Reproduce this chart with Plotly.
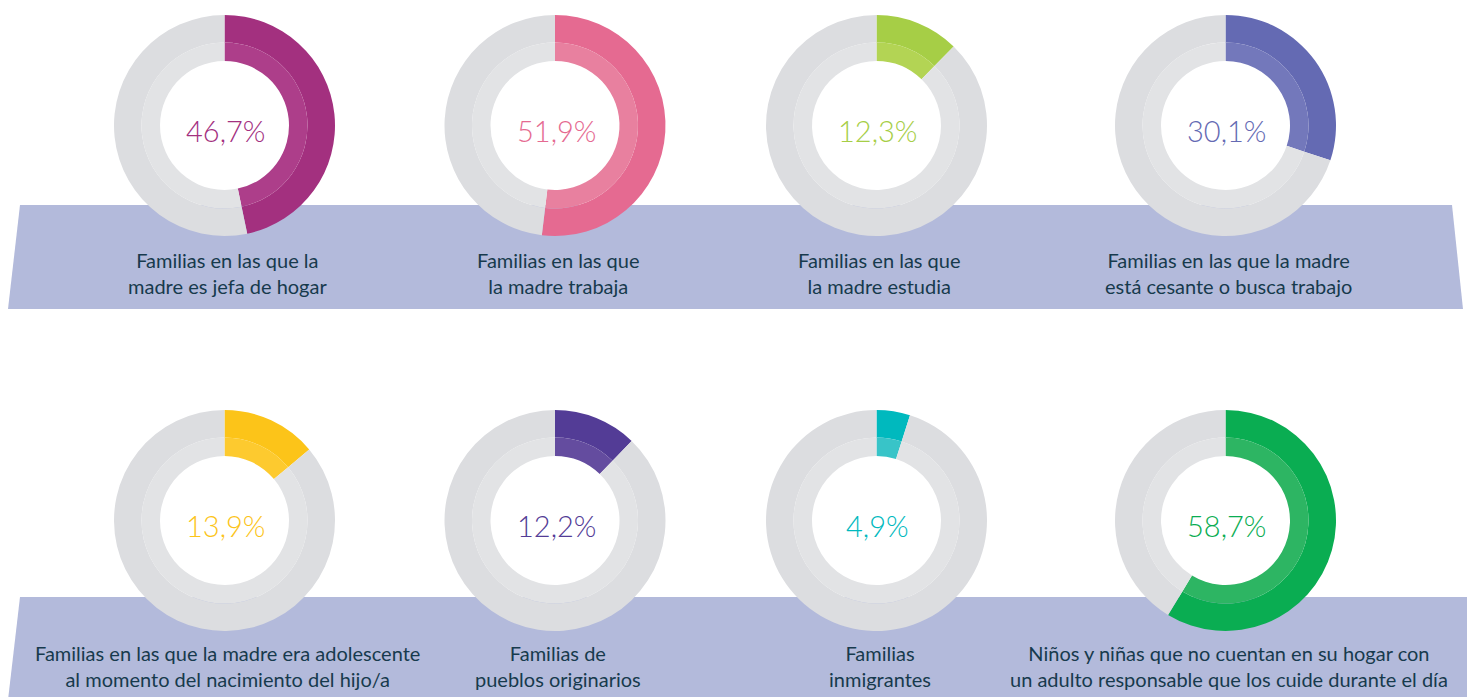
import plotly.graph_objects as go

W, H = 1467, 697

values = [46.7, 51.9, 12.3, 30.1, 13.9, 12.2, 4.9, 58.7]
pct_labels = ["46,7%", "51,9%", "12,3%", "30,1%", "13,9%", "12,2%", "4,9%", "58,7%"]
captions = [
    "Familias en las que la<br>madre es jefa de hogar",
    "Familias en las que<br>la madre trabaja",
    "Familias en las que<br>la madre estudia",
    "Familias en las que la madre<br>está cesante o busca trabajo",
    "Familias en las que la madre era adolescente<br>al momento del nacimiento del hijo/a",
    "Familias de<br>pueblos originarios",
    "Familias<br>inmigrantes",
    "Niños y niñas que no cuentan en su hogar con<br>un adulto responsable que los cuide durante el día",
]
main_colors = ["#a3307f", "#e56a91", "#a6ce46", "#646ab3",
               "#fcc419", "#533c96", "#00b9be", "#0aad52"]
light_colors = ["#ad3e8a", "#e8809f", "#b3d454", "#7378bb",
                "#fdca2f", "#644c9f", "#38c4c8", "#2db563"]

# layout (pixel) positions
centers_x = [224.5, 555, 876.5, 1225.5, 224.5, 555, 876.5, 1225.5]
centers_y = [125.5, 125.5, 125.5, 125.5, 520.5, 520.5, 520.5, 520.5]
R_OUT, R_MID, R_IN = 110.5, 83.0, 64.5
GRAY_OUT, GRAY_IN = "#dcdde0", "#e2e3e5"
BANNER = "#b3badb"
TEXT = "#173a4d"


def px(x):
    return x / W


def py(y):
    return 1 - y / H


def dom(cx, cy, r):
    return dict(x=[px(cx - r), px(cx + r)], y=[py(cy + r), py(cy - r)])


fig = go.Figure()
for i, v in enumerate(values):
    cx, cy = centers_x[i], centers_y[i]
    for r, hole, cols in [(R_OUT, R_MID / R_OUT, [main_colors[i], GRAY_OUT]),
                          (R_MID, R_IN / R_MID, [light_colors[i], GRAY_IN])]:
        fig.add_trace(go.Pie(
            values=[v, 100 - v], labels=["a", "b"], sort=False,
            direction="clockwise", rotation=0, hole=hole,
            marker=dict(colors=cols, line=dict(width=0)),
            textinfo="none", hoverinfo="skip", showlegend=False,
            domain=dom(cx, cy, r),
        ))
    fig.add_annotation(x=px(cx + 1), y=py(cy + 5), xref="paper", yref="paper",
                       xanchor="center", yanchor="middle",
                       text=pct_labels[i], showarrow=False,
                       font=dict(family="Lato", size=29, color=main_colors[i], weight=300))
    cap_y = 273 if i < 4 else 666
    fig.add_annotation(x=px(cx + 3), y=py(cap_y), xref="paper", yref="paper",
                       xanchor="center", yanchor="middle",
                       text=captions[i], showarrow=False, align="center",
                       font=dict(family="Lato", size=20, color=TEXT))

banners = [
    [(20, 205), (1452, 205), (1463, 309), (8, 309)],
    [(20, 597), (1470, 597), (1470, 700), (8, 700)],
]
for poly in banners:
    path = "M " + " L ".join(f"{px(x)},{py(y)}" for x, y in poly) + " Z"
    fig.add_shape(type="path", path=path, xref="paper", yref="paper",
                  fillcolor=BANNER, line=dict(width=0), layer="below")

fig.update_layout(width=W, height=H, margin=dict(l=0, r=0, t=0, b=0),
                  paper_bgcolor="white", plot_bgcolor="white")
fig.write_html("out.html", config={"displayModeBar": False},
               post_script="document.body.style.margin='0';document.body.style.overflow='hidden';")
